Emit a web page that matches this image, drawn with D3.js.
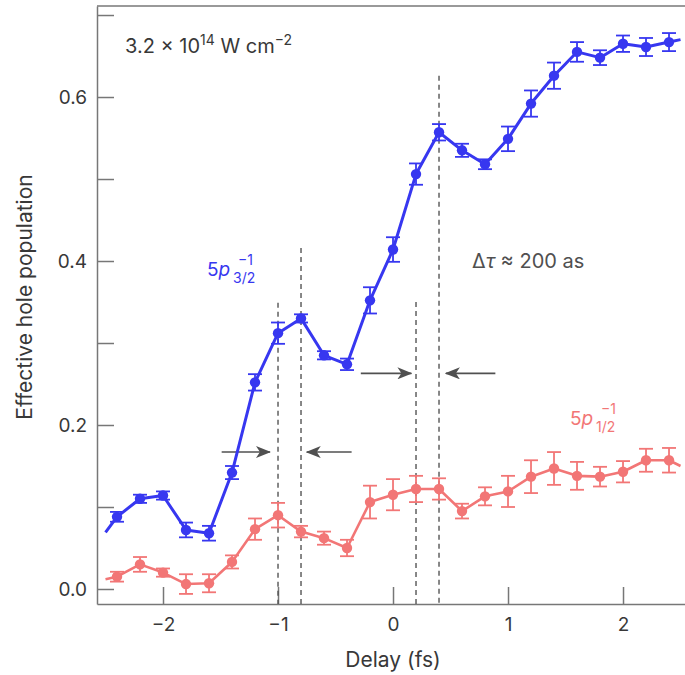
<!DOCTYPE html>
<html>
<head>
<meta charset="utf-8">
<script src="https://cdn.jsdelivr.net/npm/d3@7"></script>
<style>
	body { margin: 0; background: #fff; }
	svg text { font-family: Inter, "Open Sans", sans-serif; }
</style>
</head>
<body>
<div id="chart"></div>
<script>
// delay (fs) of each measured point
var delay = [-2.4, -2.2, -2.0, -1.8, -1.6, -1.4, -1.2, -1.0, -0.8, -0.6, -0.4, -0.2, 0.0,
	0.2, 0.4, 0.6, 0.8, 1.0, 1.2, 1.4, 1.6, 1.8, 2.0, 2.2, 2.4];

// 5p3/2 hole population (blue) and error
var blue = [0.088, 0.110, 0.114, 0.072, 0.068, 0.142, 0.252, 0.312, 0.330, 0.285, 0.274, 0.352, 0.414,
	0.506, 0.557, 0.535, 0.518, 0.549, 0.592, 0.626, 0.655, 0.648, 0.665, 0.661, 0.667];
var blueErr = [0.006, 0.005, 0.005, 0.009, 0.009, 0.008, 0.010, 0.013, 0.005, 0.005, 0.007, 0.016, 0.015,
	0.013, 0.010, 0.008, 0.006, 0.015, 0.016, 0.016, 0.012, 0.009, 0.010, 0.011, 0.011];

// 5p1/2 hole population (red) and error
var red = [0.015, 0.030, 0.020, 0.006, 0.007, 0.033, 0.073, 0.090, 0.070, 0.062, 0.050, 0.106, 0.115,
	0.122, 0.122, 0.095, 0.113, 0.119, 0.137, 0.147, 0.138, 0.137, 0.143, 0.157, 0.157];
var redErr = [0.006, 0.009, 0.005, 0.012, 0.011, 0.008, 0.013, 0.015, 0.007, 0.008, 0.010, 0.020, 0.019,
	0.016, 0.013, 0.009, 0.011, 0.019, 0.020, 0.020, 0.017, 0.012, 0.013, 0.014, 0.015];

// lines run a little past the first and last point
var lineEnds = [-2.5, 2.5];
var blueEnds = [0.069, 0.670];
var redEnds = [0.012, 0.150];

// tick values
var xTicks = [-2, -1, 0, 1, 2];
var yTicks = [0.0, 0.1, 0.2, 0.3, 0.4, 0.5, 0.6, 0.7];

// dashed markers: delay and top value
var dashDelay = [-1.0, -0.8, 0.2, 0.4];
var dashTop = [0.349, 0.416, 0.350, 0.626];

// arrows: level, tail delay, tip delay
var arrowLevel = [0.167, 0.167, 0.263, 0.263];
var arrowFrom = [-1.49, -0.36, -0.28, 0.89];
var arrowTo = [-1.07, -0.75, 0.16, 0.46];

var width = 685, height = 675;
var plotLeft = 97, plotRight = 685, plotTop = 6, plotBottom = 604;
var blueColor = "#3737f0", redColor = "#f27676", inkColor = "#383838";

var svg = d3.select("#chart").append("svg")
	.attr("width", width)
	.attr("height", height);

var x = d3.scaleLinear().domain([-2.574, 2.539]).range([plotLeft, plotRight]);
var y = d3.scaleLinear().domain([-0.0183, 0.711]).range([plotBottom, plotTop]);

var defs = svg.append("defs");
defs.append("clipPath").attr("id", "plot")
	.append("rect")
	.attr("x", plotLeft).attr("y", plotTop)
	.attr("width", plotRight - plotLeft).attr("height", plotBottom - plotTop);

defs.append("marker")
	.attr("id", "head")
	.attr("markerUnits", "userSpaceOnUse")
	.attr("markerWidth", 15).attr("markerHeight", 12)
	.attr("refX", 14).attr("refY", 6)
	.attr("orient", "auto")
	.append("path")
	.attr("d", "M0,0 L15,6 L0,12 L4,6 Z")
	.attr("fill", "#505050");

//axes with inward ticks
var xAxis = d3.axisBottom(x).tickValues(xTicks).tickSize(-17).tickSizeOuter(0).tickPadding(14)
	.tickFormat(d3.format("d"));
var yAxis = d3.axisLeft(y).tickValues(yTicks).tickSize(-17).tickSizeOuter(0).tickPadding(10)
	.tickFormat(function (d) { return Math.round(d * 10) % 2 === 0 ? d3.format(".1f")(d) : ""; });

function styleAxis(g) {
	g.select(".domain").attr("stroke", "#777").attr("stroke-width", 1.5);
	g.selectAll(".tick line").attr("stroke", "#777").attr("stroke-width", 1.5);
	g.selectAll(".tick text").attr("fill", inkColor).attr("font-size", "19px")
		.attr("font-family", "Inter, sans-serif");
}

svg.append("g").attr("transform", "translate(0," + plotBottom + ")").call(xAxis).call(styleAxis);
svg.append("g").attr("transform", "translate(" + plotLeft + ",0)").call(yAxis).call(styleAxis);

svg.append("line")
	.attr("x1", plotLeft).attr("x2", plotRight)
	.attr("y1", plotTop).attr("y2", plotTop)
	.attr("stroke", "#777").attr("stroke-width", 1.5);

//dashed guide lines
svg.selectAll("line.dash")
	.data(dashDelay)
	.enter()
	.append("line")
	.attr("class", "dash")
	.attr("x1", function (d) { return x(d); })
	.attr("x2", function (d) { return x(d); })
	.attr("y1", function (d, i) { return y(dashTop[i]); })
	.attr("y2", plotBottom)
	.attr("stroke", "#555")
	.attr("stroke-width", 1.4)
	.attr("stroke-dasharray", "5,4");

//arrows
svg.selectAll("line.arrow")
	.data(arrowLevel)
	.enter()
	.append("line")
	.attr("class", "arrow")
	.attr("x1", function (d, i) { return x(arrowFrom[i]); })
	.attr("x2", function (d, i) { return x(arrowTo[i]); })
	.attr("y1", function (d) { return y(d); })
	.attr("y2", function (d) { return y(d); })
	.attr("stroke", "#505050")
	.attr("stroke-width", 1.6)
	.attr("marker-end", "url(#head)");

//one series: line, error bars, dots
function drawSeries(values, errors, ends, color, lineWidth) {
	var pts = delay.map(function (d, i) { return [d, values[i]]; });
	var linePts = [[lineEnds[0], ends[0]]].concat(pts, [[lineEnds[1], ends[1]]]);

	var line = d3.line()
		.x(function (d) { return x(d[0]); })
		.y(function (d) { return y(d[1]); });

	var g = svg.append("g").attr("clip-path", "url(#plot)");

	g.append("path")
		.datum(linePts)
		.attr("d", line)
		.attr("fill", "none")
		.attr("stroke", color)
		.attr("stroke-width", lineWidth)
		.attr("stroke-linejoin", "round");

	var bars = g.selectAll("g.err")
		.data(pts)
		.enter()
		.append("g")
		.attr("class", "err")
		.attr("stroke", color)
		.attr("stroke-width", 1.8);

	bars.append("line")
		.attr("x1", function (d) { return x(d[0]); })
		.attr("x2", function (d) { return x(d[0]); })
		.attr("y1", function (d, i) { return y(d[1] - errors[i]); })
		.attr("y2", function (d, i) { return y(d[1] + errors[i]); });

	[-1, 1].forEach(function (s) {
		bars.append("line")
			.attr("x1", function (d) { return x(d[0]) - 7; })
			.attr("x2", function (d) { return x(d[0]) + 7; })
			.attr("y1", function (d, i) { return y(d[1] + s * errors[i]); })
			.attr("y2", function (d, i) { return y(d[1] + s * errors[i]); });
	});

	g.selectAll("circle")
		.data(pts)
		.enter()
		.append("circle")
		.attr("cx", function (d) { return x(d[0]); })
		.attr("cy", function (d) { return y(d[1]); })
		.attr("r", 5.2)
		.attr("fill", color);
}

drawSeries(red, redErr, redEnds, redColor, 2.6);
drawSeries(blue, blueErr, blueEnds, blueColor, 3);

//labels
var title = svg.append("text")
	.attr("x", 125).attr("y", 53)
	.attr("fill", inkColor).attr("font-size", "20px");
title.append("tspan").text("3.2 \u00d7 10");
title.append("tspan").attr("dy", -8).attr("font-size", "14px").text("14");
title.append("tspan").attr("dy", 8).text(" W cm");
title.append("tspan").attr("dy", -8).attr("font-size", "14px").text("\u22122");

function orbitalLabel(px, py, sub, color) {
	var t = svg.append("text").attr("x", px).attr("y", py)
		.attr("fill", color).attr("font-size", "19px");
	t.append("tspan").text("5");
	t.append("tspan").attr("font-style", "italic").text("p");
	var xs = px + 26;
	svg.append("text").attr("x", xs + 5).attr("y", py - 11)
		.attr("fill", color).attr("font-size", "14px").text("\u22121");
	svg.append("text").attr("x", xs).attr("y", py + 7)
		.attr("fill", color).attr("font-size", "14px").text(sub);
}

orbitalLabel(207, 276, "3/2", blueColor);
orbitalLabel(570, 425, "1/2", redColor);

var dt = svg.append("text")
	.attr("x", 472).attr("y", 268)
	.attr("fill", "#505050").attr("font-size", "20px");
dt.append("tspan").text("\u0394");
dt.append("tspan").attr("font-style", "italic").text("\u03c4");
dt.append("tspan").text(" \u2248 200 as");

svg.append("text")
	.attr("x", x(0))
	.attr("y", 667)
	.attr("text-anchor", "middle")
	.attr("fill", inkColor).attr("font-size", "21px")
	.text("Delay (fs)");

svg.append("text")
	.attr("transform", "translate(32,297) rotate(-90)")
	.attr("text-anchor", "middle")
	.attr("fill", inkColor).attr("font-size", "21px")
	.text("Effective hole population");
</script>
</body>
</html>
